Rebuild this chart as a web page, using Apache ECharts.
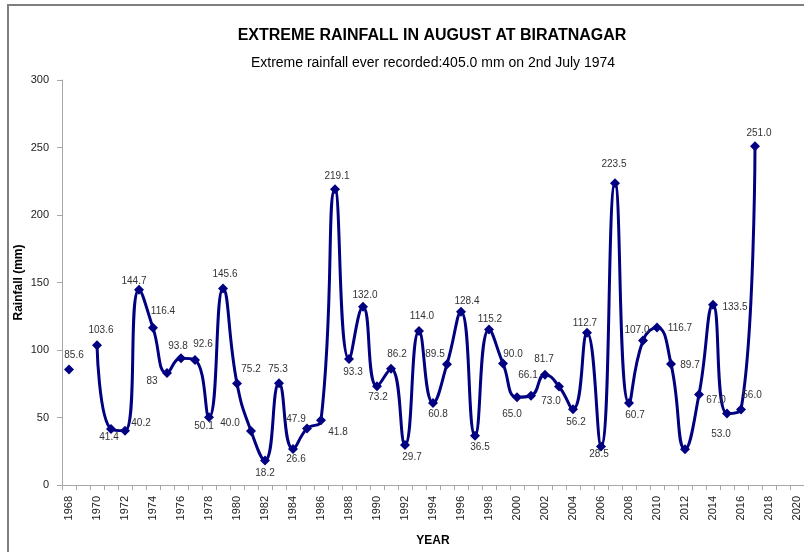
<!DOCTYPE html>
<html>
<head>
<meta charset="utf-8">
<script src="https://cdn.jsdelivr.net/npm/echarts@6/dist/echarts.min.js"></script>
<style>
  html, body { margin: 0; padding: 0; background: #fff; }
  #main { width: 804px; height: 552px; }
</style>
</head>
<body>
<div id="main"></div>
<script>
// years on the axis
var years = []
for (var y = 1968; y <= 2020; y++) years.push(String(y))

// rainfall (mm), null = no record
var rain = [
  85.6, null, 103.6, 41.4, 40.2, 144.7, 116.4, 83, 93.8, 92.6,
  50.1, 145.6, 75.2, 40.0, 18.2, 75.3, 26.6, 41.8, 47.9, 219.1,
  93.3, 132.0, 73.2, 86.2, 29.7, 114.0, 60.8, 89.5, 128.4, 36.5,
  115.2, 90.0, 65.0, 66.1, 81.7, 73.0, 56.2, 112.7, 28.5, 223.5,
  60.7, 107.0, 116.7, 89.7, 26.5, 67.0, 133.5, 53.0, 56.0, 251.0,
  null, null, null
]
var yTicks = [0, 50, 100, 150, 200, 250, 300]

// where each value label sits relative to its marker (2012 has none)
var labelOffset = {
  1968: [5, -14], 1970: [4, -15], 1971: [-2, 8], 1972: [16, -7], 1973: [-5, -8],
  1974: [10, -17], 1975: [-15, 8], 1976: [-3, -12], 1977: [8, -16], 1978: [-5, 9],
  1979: [2, -14], 1980: [14, -14], 1981: [-21, -8], 1982: [0, 13], 1983: [-1, -14],
  1984: [3, 10], 1985: [31, 4], 1986: [-25, -1], 1987: [2, -13], 1988: [4, 13],
  1989: [2, -12], 1990: [1, 11], 1991: [6, -14], 1992: [7, 12], 1993: [3, -15],
  1994: [5, 11], 1995: [-12, -10], 1996: [6, -10], 1997: [5, 12], 1998: [1, -10],
  1999: [10, -9], 2000: [-5, 17], 2001: [-3, -21], 2002: [-1, -15], 2003: [-8, 15],
  2004: [3, 13], 2005: [-2, -10], 2006: [-2, 8], 2007: [-1, -19], 2008: [6, 12],
  2009: [-6, -10], 2010: [23, 1], 2011: [19, 1], 2013: [17, 6], 2014: [22, 2],
  2015: [-6, 21], 2016: [11, -14], 2017: [4, -13]
}

var seriesData = rain.map(function (v, i) {
  if (v == null) return null
  if (!labelOffset[years[i]]) return { value: v, label: { show: false } }
  return v
})

var chart = echarts.init(document.getElementById('main'))

var option = {
  backgroundColor: '#fff',
  animation: false,
  graphic: [{
    type: 'rect',
    shape: { x: 8, y: 5, width: 900, height: 700 },
    style: { fill: 'none', stroke: '#7f7f7f', lineWidth: 2 },
    z: 100
  }],
  title: [{
    text: 'EXTREME RAINFALL IN AUGUST AT BIRATNAGAR',
    left: 427,
    top: 23,
    textAlign: 'center',
    textStyle: { fontFamily: 'Liberation Sans', fontSize: 16, fontWeight: 'bold', color: '#000' }
  }, {
    text: 'Extreme rainfall ever recorded:405.0 mm on 2nd July 1974',
    left: 428,
    top: 51,
    textAlign: 'center',
    textStyle: { fontFamily: 'Liberation Sans', fontSize: 14, fontWeight: 'normal', color: '#000' }
  }],
  grid: {
    left: 62,
    right: 0,
    top: 80,
    bottom: 67,
    containLabel: false
  },
  xAxis: {
    type: 'category',
    data: years,
    boundaryGap: true,
    name: 'YEAR',
    nameLocation: 'middle',
    nameGap: 50,
    nameMoveOverlap: false,
    nameTextStyle: { fontFamily: 'Liberation Sans', fontSize: 12, fontWeight: 'bold', color: '#000' },
    axisLine: { lineStyle: { color: '#a6a6a6', width: 1 } },
    axisTick: { show: true, interval: 0, length: 5, lineStyle: { color: '#a6a6a6' } },
    axisLabel: {
      interval: 1,
      rotate: 90,
      margin: 11,
      fontFamily: 'Liberation Sans',
      fontSize: 11,
      color: '#222'
    },
    splitLine: { show: false }
  },
  yAxis: {
    type: 'value',
    min: yTicks[0],
    max: yTicks[yTicks.length - 1],
    interval: 50,
    name: 'Rainfall (mm)',
    nameLocation: 'middle',
    nameGap: 37,
    nameMoveOverlap: false,
    nameTextStyle: { fontFamily: 'Liberation Sans', fontSize: 12, fontWeight: 'bold', color: '#000' },
    axisLine: { show: true, lineStyle: { color: '#a6a6a6', width: 1 } },
    axisTick: { show: true, length: 5, lineStyle: { color: '#a6a6a6' } },
    axisLabel: { margin: 13, fontFamily: 'Liberation Sans', fontSize: 11, color: '#222' },
    splitLine: { show: false }
  },
  series: [{
    name: 'Rainfall',
    type: 'line',
    data: seriesData,
    smooth: 0.5,
    connectNulls: false,
    symbol: 'diamond',
    symbolSize: 10,
    showAllSymbol: true,
    lineStyle: { color: '#000080', width: 3 },
    itemStyle: { color: '#000080' },
    label: {
      show: true,
      position: 'inside',
      fontFamily: 'Liberation Sans',
      fontSize: 10,
      color: '#333',
      formatter: function (p) {
        return p.value === 83 ? '83' : Number(p.value).toFixed(1)
      }
    },
    labelLayout: function (params) {
      var off = labelOffset[years[params.dataIndex]] || [0, 0]
      return { dx: off[0], dy: off[1], hideOverlap: false }
    }
  }]
}

chart.setOption(option)
</script>
</body>
</html>
